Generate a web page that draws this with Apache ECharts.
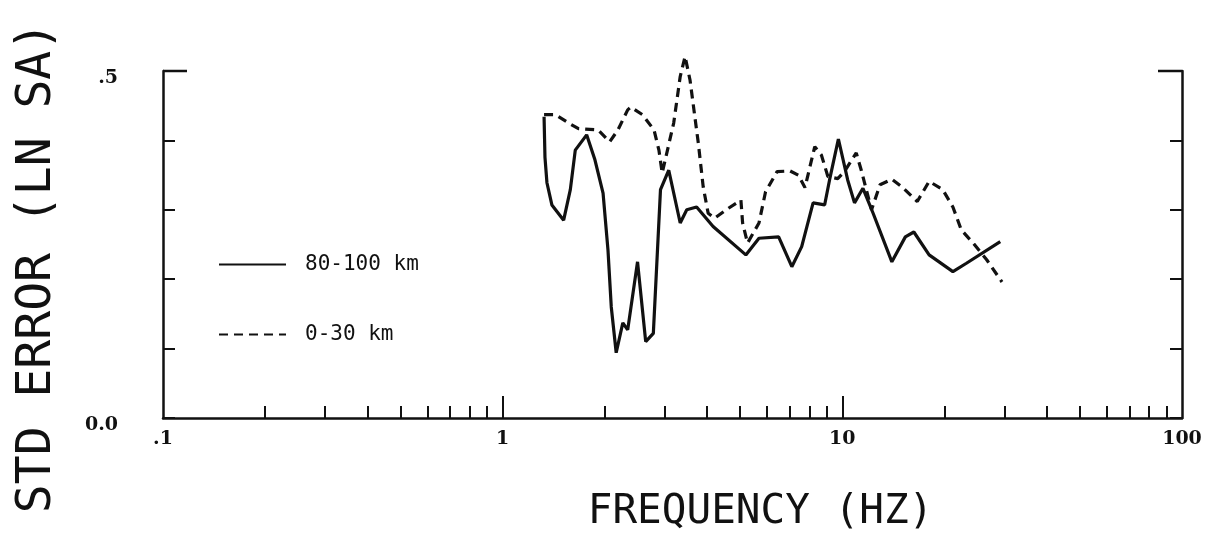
<!DOCTYPE html>
<html><head><meta charset="utf-8">
<script src="https://cdn.jsdelivr.net/npm/echarts@6/dist/echarts.min.js"></script>
<style>html,body{margin:0;padding:0;background:#fff}#c{width:1214px;height:544px}</style>
</head><body><div id="c"></div>
<script>
// ---- data ----
const seriesNames = ['80-100 km', '0-30 km'];

const freqSolid = [1.324,1.332,1.350,1.396,1.512,1.582,1.636,1.767,1.869,1.975,2.042,2.088,2.159,2.258,2.334,2.495,2.637,2.777,2.915,3.083,3.332,3.483,3.724,4.164,5.199,5.683,6.494,7.101,7.592,8.202,8.869,9.170,9.736,10.37,10.86,11.50,12.32,13.99,15.33,16.24,18.01,21.16,23.19,29.17];
const errSolid  = [0.434,0.376,0.339,0.307,0.285,0.329,0.386,0.408,0.372,0.324,0.242,0.160,0.094,0.137,0.127,0.225,0.110,0.122,0.329,0.357,0.281,0.300,0.304,0.276,0.235,0.259,0.261,0.218,0.247,0.310,0.307,0.343,0.402,0.343,0.310,0.331,0.295,0.225,0.261,0.268,0.235,0.211,0.223,0.254];

const freqDashed = [1.324,1.431,1.564,1.672,1.910,2.066,2.184,2.334,2.386,2.580,2.790,2.884,2.949,3.188,3.332,3.444,3.561,3.767,3.894,4.027,4.208,4.550,5.028,5.086,5.259,5.683,5.942,6.425,7.020,7.419,7.761,8.295,8.676,9.066,9.692,10.14,10.99,11.37,12.19,12.91,13.99,14.99,16.62,18.01,19.75,21.16,22.40,24.28,26.61,29.51];
const errDashed  = [0.437,0.437,0.425,0.417,0.415,0.398,0.415,0.444,0.448,0.437,0.415,0.386,0.353,0.425,0.492,0.521,0.487,0.396,0.333,0.295,0.288,0.300,0.314,0.281,0.252,0.281,0.326,0.355,0.356,0.350,0.332,0.391,0.379,0.348,0.345,0.355,0.382,0.357,0.300,0.336,0.344,0.333,0.312,0.341,0.329,0.304,0.271,0.252,0.228,0.196];

const xTickLabels = ['.1', '1', '10', '100'];          // decades 0.1 .. 100
const yTickLabels = ['0.0', '', '', '', '', '.5'];     // 0 .. 0.5 step 0.1
const xMinorTicks = [0.2,0.3,0.4,0.5,0.6,0.7,0.8,0.9,2,3,4,5,6,7,8,9,20,30,40,50,60,70,80,90];
const xMajorTicks = [1, 10];
const xTitle = 'FREQUENCY (HZ)';
const yTitle = 'STD ERROR (LN SA)';

// ---- chart ----
const INK = '#111';
const zip = (a, b) => a.map((v, i) => [v, b[i]]);
const chart = echarts.init(document.getElementById('c'), null, {renderer: 'canvas'});
const labelFont = {color: INK, fontFamily: 'DejaVu Serif', fontWeight: 'bold', fontSize: 19};

chart.setOption({
  animation: false,
  backgroundColor: '#fff',
  grid: {left: 163, right: 32, top: 71, bottom: 126, containLabel: false},
  legend: {
    left: 213, top: 249, orient: 'vertical',
    itemWidth: 67, itemHeight: 20, itemGap: 49,
    itemStyle: {color: 'rgba(0,0,0,0)', borderWidth: 0, opacity: 0},
    textStyle: {color: INK, fontFamily: 'DejaVu Sans Mono', fontSize: 21, padding: [0, 0, 0, 14]},
    data: seriesNames
  },
  xAxis: [{
    type: 'log', logBase: 10, min: 0.1, max: 100, position: 'bottom',
    axisLine: {show: true, lineStyle: {color: INK, width: 2.5}},
    axisTick: {show: true, inside: true, length: 12, customValues: xMinorTicks, lineStyle: {color: INK, width: 2}},
    axisLabel: {show: true, margin: 12, ...labelFont,
      formatter: v => xTickLabels[Math.round(Math.log10(v)) + 1] || ''},
    splitLine: {show: false},
    name: xTitle, nameLocation: 'middle', nameGap: 74,
    nameTextStyle: {color: INK, fontFamily: 'DejaVu Sans Mono', fontSize: 41, padding: [0, 0, 0, 176]}
  }, {
    type: 'log', logBase: 10, min: 0.1, max: 100, position: 'bottom', gridIndex: 0,
    axisLine: {show: false},
    axisTick: {show: true, inside: true, length: 22, customValues: xMajorTicks, lineStyle: {color: INK, width: 2}},
    axisLabel: {show: false}, splitLine: {show: false}
  }],
  yAxis: [{
    type: 'value', min: 0, max: 0.5, interval: 0.1, position: 'left',
    axisLine: {show: true, lineStyle: {color: INK, width: 2.5}},
    axisTick: {show: true, inside: true, length: 12, lineStyle: {color: INK, width: 2}},
    axisLabel: {show: true, margin: 45, verticalAlign: 'top', lineHeight: 14, ...labelFont,
      formatter: v => yTickLabels[Math.round(v * 10)] || ''},
    splitLine: {show: false},
    name: yTitle, nameLocation: 'middle', nameGap: 101, nameRotate: 90,
    nameTextStyle: {color: INK, fontFamily: 'DejaVu Sans Mono', fontSize: 48, padding: [0, 46, 0, 0]}
  }, {
    type: 'value', min: 0, max: 0.5, interval: 0.1, position: 'right',
    axisLine: {show: true, lineStyle: {color: INK, width: 2.5}},
    axisTick: {show: true, inside: true, length: 12, lineStyle: {color: INK, width: 2}},
    axisLabel: {show: false}, splitLine: {show: false}
  }],
  series: [{
    name: seriesNames[0], type: 'line', xAxisIndex: 0, yAxisIndex: 0, clip: false,
    data: zip(freqSolid, errSolid), symbol: 'none', showSymbol: false,
    lineStyle: {color: INK, width: 3.2, type: 'solid'}, itemStyle: {color: INK}
  }, {
    name: seriesNames[1], type: 'line', xAxisIndex: 0, yAxisIndex: 0, clip: false,
    data: zip(freqDashed, errDashed), symbol: 'none', showSymbol: false,
    lineStyle: {color: INK, width: 3.2, type: [9, 6]}, itemStyle: {color: INK}
  }]
});

// short stubs of the top frame at both corners
const tl = chart.convertToPixel({xAxisIndex: 0, yAxisIndex: 0}, [0.1, 0.5]);
const tr = chart.convertToPixel({xAxisIndex: 0, yAxisIndex: 0}, [100, 0.5]);
chart.setOption({graphic: [
  {type: 'line', shape: {x1: tl[0], y1: tl[1], x2: tl[0] + 24, y2: tl[1]}, style: {stroke: INK, lineWidth: 2.5}},
  {type: 'line', shape: {x1: tr[0] - 24, y1: tr[1], x2: tr[0], y2: tr[1]}, style: {stroke: INK, lineWidth: 2.5}}
]});
</script>
</body></html>
